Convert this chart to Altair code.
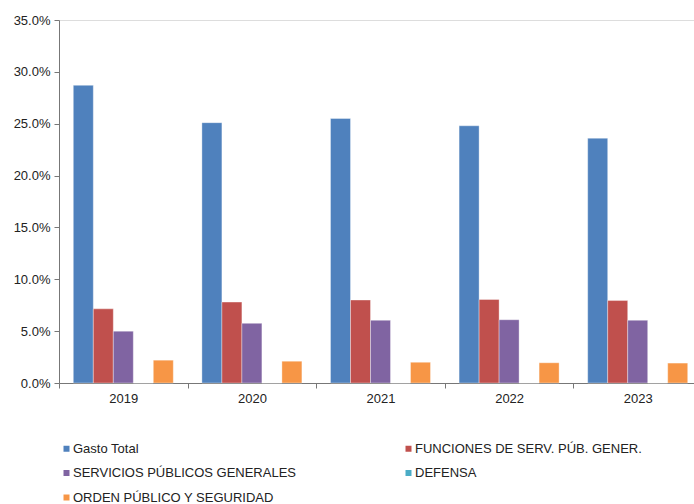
import altair as alt
import pandas as pd

years = ["2019", "2020", "2021", "2022", "2023"]
series = ["Gasto Total", "FUNCIONES DE SERV. PÚB. GENER.", "SERVICIOS PÚBLICOS GENERALES",
          "DEFENSA", "ORDEN PÚBLICO Y SEGURIDAD"]
colors = ["#4F81BD", "#C0504D", "#8064A2", "#4BACC6", "#F79646"]

gasto_total = [28.7, 25.1, 25.5, 24.8, 23.6]
funciones = [7.15, 7.8, 8.0, 8.05, 7.95]
servicios = [5.0, 5.75, 6.05, 6.1, 6.05]
defensa = [0.0, 0.0, 0.0, 0.0, 0.0]
orden = [2.2, 2.1, 2.0, 1.95, 1.92]

values = [gasto_total, funciones, servicios, defensa, orden]
rows = []
for s, vals in zip(series, values):
    for y, v in zip(years, vals):
        rows.append({"year": y, "serie": s, "value": v})
df = pd.DataFrame(rows)

FONT = "Liberation Sans"

chart = alt.Chart(df).mark_bar(stroke="white", strokeWidth=0.6, strokeOpacity=0.6).encode(
    x=alt.X("year:N", sort=years, title=None,
            scale=alt.Scale(range=[0, 643], paddingInner=0, paddingOuter=0),
            axis=alt.Axis(labelAngle=0, tickBand="extent", labelFontSize=13, labelColor="#222",
                          labelFont=FONT, domainColor="#777", tickColor="#777", tickSize=5,
                          labelPadding=4)),
    xOffset=alt.XOffset("serie:N", sort=series,
                        scale=alt.Scale(paddingInner=0, paddingOuter=0.715)),
    y=alt.Y("value:Q", title=None,
            scale=alt.Scale(domain=[0, 35], nice=False),
            axis=alt.Axis(values=[0, 5, 10, 15, 20, 25, 30, 35],
                          labelExpr="format(datum.value, '.1f') + '%'",
                          grid=False, labelFontSize=13, labelColor="#222", labelFont=FONT,
                          domainColor="#777", tickColor="#777", tickSize=5, labelPadding=4)),
    color=alt.Color("serie:N", sort=series,
                    scale=alt.Scale(domain=series, range=colors),
                    legend=alt.Legend(title=None, orient="none", legendX=1, legendY=422,
                                      columns=2, direction="horizontal",
                                      symbolType="square", symbolSize=36, symbolStrokeWidth=0,
                                      labelFont=FONT, labelFontSize=13, labelColor="#222",
                                      labelOffset=0, rowPadding=10.5, columnPadding=106,
                                      labelLimit=400)),
).properties(
    width=635, height=363,
    autosize=alt.AutoSizeParams(type="none"),
    padding={"left": 59, "top": 20, "right": 0, "bottom": 121},
).configure_view(stroke=None).configure(background="white")

chart.save("out.html", embed_options={"renderer": "svg", "actions": False})
